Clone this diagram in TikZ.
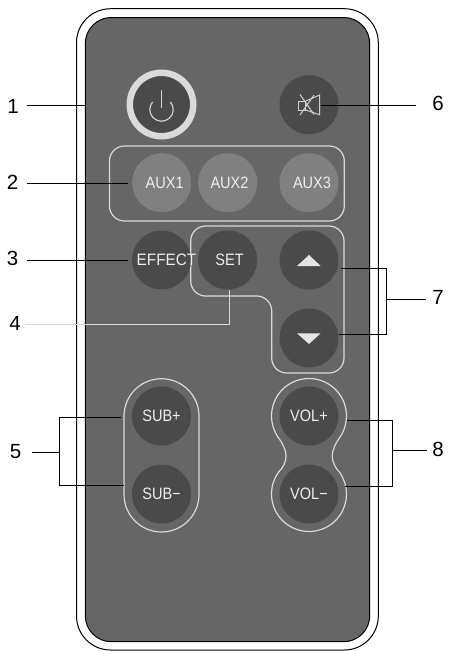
\documentclass[tikz,border=0pt]{standalone}
\usepackage{fontspec}
\setmainfont{Liberation Sans}
\newfontfamily\btnfont[FakeStretch=0.88]{Liberation Sans}
\newfontfamily\effont[FakeStretch=0.93]{Liberation Sans}
\tikzset{
  x=1pt,y=-1pt,
  btn/.style={circle,minimum size=59pt,inner sep=0pt,fill=btndark,text=btntext,font=\btnfont\fontsize{16.5}{16.5}\selectfont},
  auxbtn/.style={btn,fill=btnlight},
  frameline/.style={draw=framecol,line width=1.2pt},
  leader/.style={draw=black,line width=0.8pt},
  lab/.style={font=\fontsize{20.5}{20.5}\selectfont,inner ysep=0pt,text=black},
  icon/.style={draw=iconcol,line width=1pt},
}
\definecolor{bodycol}{HTML}{666666}
\definecolor{btndark}{HTML}{4A4A4A}
\definecolor{btnlight}{HTML}{808080}
\definecolor{btntext}{HTML}{EDEDED}
\definecolor{framecol}{HTML}{DADADA}
\definecolor{iconcol}{HTML}{D0D0D0}
\begin{document}
\begin{tikzpicture}
\useasboundingbox (0,0) rectangle (448,651);
\fill[white] (0,0) rectangle (448,651);
% casing
\draw[black,line width=1pt,rounded corners=34pt] (76.5,8.7) rectangle (378.3,650);
\draw[black,fill=bodycol,line width=1pt,rounded corners=26pt] (85.3,17.5) rectangle (369.7,641.7);
% frames
\draw[frameline,rounded corners=15pt] (109.5,146) rectangle (344.3,221);
\draw[frameline,rounded corners=15pt] (190.7,226) -- (344,226) -- (344,373) -- (271.7,373) -- (271.7,296) -- (190.7,296) -- cycle;
\draw[frameline] (124,416.2) arc[start angle=180,end angle=360,radius=37.5] -- (199,494.5) arc[start angle=0,end angle=180,radius=37.5] -- cycle;
\draw[frameline] (339.7,437.5) arc[start angle=35,end angle=-215,radius=37.5]
  .. controls (283,444) and (286,450) .. (286,456)
  .. controls (286,462) and (283,468) .. (278.3,472.5)
  arc[start angle=215,end angle=-35,radius=37.5]
  .. controls (335.2,468) and (332.3,462) .. (332.3,456)
  .. controls (332.3,450) and (335.2,444) .. (339.7,437.5) -- cycle;
% buttons
\node[circle,fill=btndark,draw=framecol,line width=6.5pt,minimum size=63.5pt,inner sep=0pt] (power) at (161.5,104.5) {};
\node[btn] (mute) at (309,104.7) {};
\node[auxbtn] (aux1) at (161.7,182.7) {\hspace*{6pt}AUX1};
\node[auxbtn] (aux2) at (227.7,182.7) {\hspace*{3.6pt}AUX2};
\node[auxbtn] (aux3) at (309,182.7) {\hspace*{6pt}AUX3};
\node[btn,font=\effont\fontsize{16.5}{16.5}\selectfont] (effect) at (161.5,260) {\makebox[0pt][c]{\hspace*{10pt}EFFECT}};
\node[btn] (set) at (227.7,260) {\hspace*{3.6pt}SET};
\node[btn] (up) at (309,260) {};
\node[btn] (down) at (309,338) {};
\node[btn] (subp) at (161.5,416) {SUB+};
\node[btn] (subm) at (161.5,494) {SUB−};
\node[btn] (volp) at (309,416) {VOL+};
\node[btn] (volm) at (309,494) {VOL−};
% icons
\draw[icon,line width=1.2pt] (161.5,90) -- (161.5,108);
\draw[icon,line width=1.2pt] (170.5,102) arc[start angle=-40,end angle=220,radius=11.7];
\draw[icon] (298.3,101) rectangle (305.7,110);
\draw[icon] (305.7,101) -- (319.7,95) -- (319.7,114.8) -- (305.7,110);
\draw[icon] (300,94.5) -- (314,114.5);
\draw[icon] (300,115) -- (314,95);
\fill[white!90!black] (309,255) -- (320.7,266) -- (297,266) -- cycle;
\fill[white!90!black] (309,344) -- (320.7,333.3) -- (297,333.3) -- cycle;
% labels
\node[lab,inner xsep=8.3pt] (l1) at (13,106.7) {1};
\node[lab,inner xsep=8.3pt] (l2) at (12.7,182.7) {2};
\node[lab,inner xsep=8.3pt] (l3) at (12.7,258) {3};
\node[lab,inner xsep=4.3pt] (l4) at (15,323) {4};
\node[lab,inner xsep=10.3pt] (l5) at (15.7,452) {5};
\node[lab,inner xsep=16.3pt] (l6) at (438,103) {6};
\node[lab,inner xsep=6.3pt] (l7) at (438,297) {7};
\node[lab,inner xsep=5.3pt] (l8) at (438,449) {8};
% connector ends
\coordinate (c1) at (85,105);
\coordinate (c2) at (127.5,183);
\coordinate (c3) at (127.5,260);
\coordinate (c4) at (229.5,324.3);
\coordinate (c5) at (59.3,452.7);
\coordinate (c6) at (320.7,105);
\coordinate (c7) at (386.7,299);
\coordinate (c8) at (392,450.3);
% leaders
\draw[leader] (l1.east |- c1) -- (c1);
\draw[leader] (l2.east |- c2) -- (c2);
\draw[leader] (l3.east |- c3) -- (c3);
\draw[draw=framecol,line width=0.8pt] (l4.east |- c4) -- (c4) -- (set.south -| c4);
\draw[leader] (l5.east |- c5) -- (c5);
\draw[leader] (l6.west |- c6) -- (c6);
\draw[leader] (l7.west |- c7) -- (c7);
\draw[leader] (l8.west |- c8) -- (c8);
% brackets
\draw[leader] (121,417.7) -- (59.3,417.7) -- (59.3,485.7) -- (124,485.7);
\draw[leader] (341.3,268.3) -- (386.7,268.3) -- (386.7,334.7) -- (339,334.7);
\draw[leader] (346.7,420) -- (392,420) -- (392,486.7) -- (344.7,486.7);
\end{tikzpicture}
\end{document}
